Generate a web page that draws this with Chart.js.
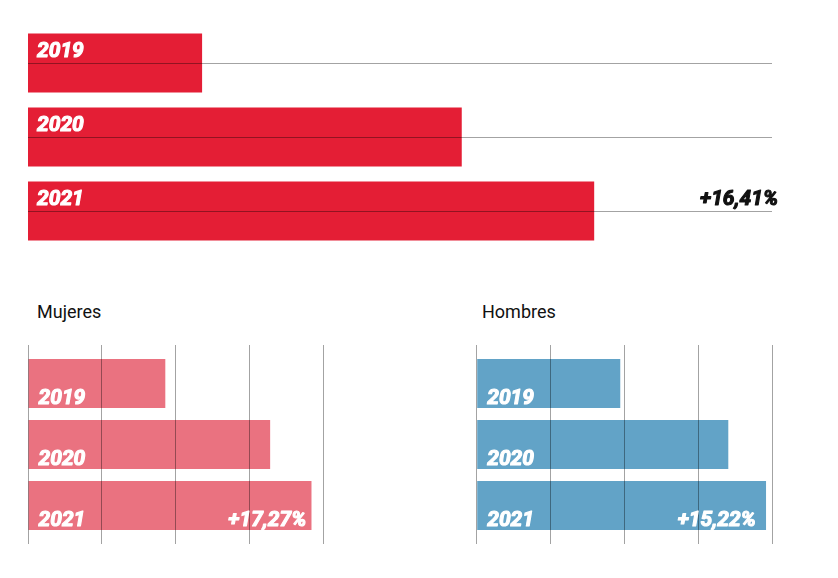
<!DOCTYPE html>
<html>
<head>
<meta charset="utf-8">
<script src="https://cdn.jsdelivr.net/npm/chart.js@4/dist/chart.umd.min.js"></script>
<style>
  html, body { margin: 0; padding: 0; background: #fff; }
  #root { position: relative; width: 838px; height: 578px; overflow: hidden; font-family: Roboto, "Liberation Sans", sans-serif; }
  .box { position: absolute; }
  .title { position: absolute; font-size: 18px; line-height: 18px; color: #111; font-family: Roboto, sans-serif; }
</style>
</head>
<body>
<div id="root">
  <div class="box" style="left:0;top:0;width:838px;height:260px;"><canvas id="cTotal"></canvas></div>
  <div class="title" style="left:37px;top:303px;">Mujeres</div>
  <div class="title" style="left:482px;top:303px;">Hombres</div>
  <div class="box" style="left:0;top:330px;width:340px;height:230px;"><canvas id="cMuj"></canvas></div>
  <div class="box" style="left:460px;top:330px;width:378px;height:230px;"><canvas id="cHom"></canvas></div>
</div>
<script>
// ---- data ----
const years = ['2019', '2020', '2021'];
const totalValues = [23.4, 58.3, 76.1];      // top chart, relative scale 0-100
const mujeresValues = [1.86, 3.28, 3.84];
const hombresValues = [1.94, 3.40, 3.91];
const totalChange = '+16,41%';
const mujeresChange = '+17,27%';
const hombresChange = '+15,22%';
const smallTicks = [0, 1, 2, 3, 4];

const labelFont = 'italic bold 21px Roboto, "Liberation Sans", sans-serif';
const gridColor = 'rgba(0,0,0,0.36)';

const barText = {
  id: 'barText',
  afterDraw(chart, args, opts) {
    const ctx = chart.ctx;
    const meta = chart.getDatasetMeta(0);
    ctx.save();
    ctx.font = labelFont;
    ctx.textBaseline = 'alphabetic';
    ctx.lineJoin = 'round';
    ctx.lineWidth = 1.1;
    const put = (txt, x, y, col, align) => {
      ctx.textAlign = align;
      ctx.fillStyle = col; ctx.strokeStyle = col;
      ctx.fillText(txt, x, y);
      ctx.strokeText(txt, x, y);
    };
    meta.data.forEach((bar, i) => {
      const p = bar.getProps(['x', 'y', 'base', 'height'], true);
      const top = p.y - p.height / 2;
      const bottom = p.y + p.height / 2;
      const y = opts.position === 'top' ? top + 23.4 : bottom - 3.5;
      put(chart.data.labels[i], p.base + opts.dx, y, '#ffffff', 'left');
      if (i === meta.data.length - 1 && opts.change) {
        put(opts.change, chart.chartArea.right + opts.changeDx, y, opts.changeColor, 'right');
      }
    });
    ctx.restore();
  }
};

// ---- top chart ----
new Chart(document.getElementById('cTotal'), {
  type: 'bar',
  data: { labels: years, datasets: [{ data: totalValues, backgroundColor: '#e41e35', borderWidth: 0,
    barPercentage: 1, categoryPercentage: 0.8 }] },
  options: {
    indexAxis: 'y', responsive: true, maintainAspectRatio: false, animation: false,
    layout: { padding: { left: 28, right: 66, top: 26, bottom: 12 } },
    plugins: { legend: { display: false }, tooltip: { enabled: false },
      barText: { position: 'top', dx: 9, change: totalChange, changeColor: '#111111', changeDx: 6 } },
    scales: {
      x: { display: false, min: 0, max: 100 },
      y: { display: true, offset: true,
        grid: { z: 1, offset: false, color: gridColor, lineWidth: 1, drawTicks: false },
        border: { display: false }, ticks: { display: false } }
    }
  },
  plugins: [barText]
});

function smallChart(id, values, color, change, padL, padR) {
  new Chart(document.getElementById(id), {
    type: 'bar',
    data: { labels: years, datasets: [{ data: values, backgroundColor: color, borderWidth: 0,
      barPercentage: 1, categoryPercentage: 0.8, xAxisID: 'x' }] },
    options: {
      indexAxis: 'y', responsive: true, maintainAspectRatio: false, animation: false,
      layout: { padding: { left: padL, right: padR, top: 15, bottom: 16 } },
      plugins: { legend: { display: false }, tooltip: { enabled: false },
        barText: { position: 'bottom', dx: 10, change: change, changeColor: '#ffffff', changeDx: -17 } },
      scales: {
        x: { type: 'linear', position: 'bottom', min: 0, max: 4,
          afterBuildTicks: s => { s.ticks = smallTicks.map(v => ({ value: v })); },
          grid: { z: 1, color: gridColor, lineWidth: 1, drawTicks: true, tickLength: 8 },
          border: { display: false }, ticks: { display: false } },
        x2: { type: 'linear', position: 'top', min: 0, max: 4,
          afterBuildTicks: s => { s.ticks = smallTicks.map(v => ({ value: v })); },
          grid: { z: 1, color: gridColor, lineWidth: 1, drawTicks: true, tickLength: 8, drawOnChartArea: false },
          border: { display: false }, ticks: { display: false } },
        y: { display: false }
      }
    },
    plugins: [barText]
  });
}

smallChart('cMuj', mujeresValues, '#ea7280', mujeresChange, 28, 16.7);
smallChart('cHom', hombresValues, '#62a3c7', hombresChange, 16.7, 65.3);
</script>
</body>
</html>
